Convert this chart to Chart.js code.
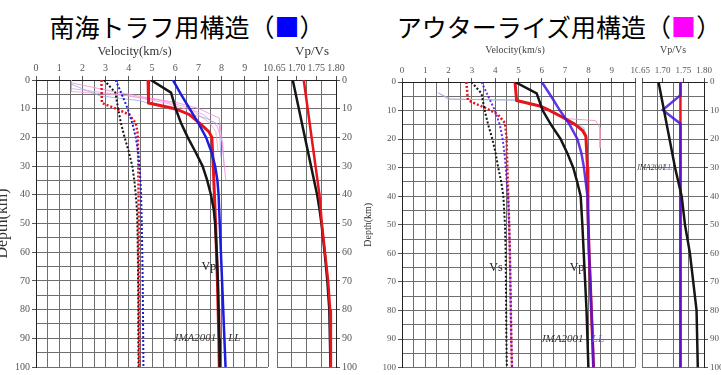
<!DOCTYPE html>
<html>
<head>
<meta charset="utf-8">
<script src="https://cdn.jsdelivr.net/npm/chart.js@4.4.1/dist/chart.umd.min.js"></script>
<style>
  body { margin: 0; background: #fff; }
  #wrap { position: relative; width: 721px; height: 375px; overflow: hidden; background: #fff; }
  canvas { position: absolute; }
  .title { position: absolute; top: 10px; font-family: "Noto Sans CJK JP", sans-serif; font-size: 25px; line-height: 32px; color: #000; white-space: nowrap; transform: translateX(-50%); }
  .preload { position: absolute; left: -200px; font-family: "Liberation Serif"; }
</style>
</head>
<body>
<div id="wrap">
  <div class="title" style="left:187px">南海トラフ用構造（<span style="color:#0000ff">■</span>）</div>
  <div class="title" style="left:559px">アウターライズ用構造（<span style="color:#ff00ff">■</span>）</div>
  <span class="preload">Vp <i>JMA</i></span>
  <canvas id="nkVel" width="276" height="335" style="left:0px;top:40px"></canvas>
  <canvas id="nkRatio" width="88" height="335" style="left:272px;top:40px"></canvas>
  <canvas id="orVel" width="276" height="335" style="left:362px;top:40px"></canvas>
  <canvas id="orRatio" width="84" height="335" style="left:637px;top:40px"></canvas>
</div>
<script>
// Nankai trough structure (left panel), depth in km, velocity in km/s
const nkJmaDepth = [0, 4.4, 10, 15, 20, 25, 30, 35, 40, 45, 50, 60, 70, 80, 90, 100];
const nkJmaVp = [4.95, 5.82, 6.02, 6.25, 6.54, 6.87, 7.18, 7.38, 7.54, 7.66, 7.72, 7.79, 7.84, 7.87, 7.9, 7.92];
const nkJmaVs = [2.93, 3.42, 3.54, 3.66, 3.82, 4.0, 4.15, 4.24, 4.3, 4.35, 4.37, 4.39, 4.4, 4.41, 4.41, 4.42];
const nkLLDepth = [0, 5, 10, 15, 20, 25, 30, 35, 40, 50, 60, 70, 80, 90, 100];
const nkLLVp = [5.9, 6.25, 6.62, 7.0, 7.33, 7.56, 7.72, 7.82, 7.87, 7.92, 7.97, 8.02, 8.07, 8.12, 8.17];
const nkLLVs = [3.43, 3.7, 3.95, 4.15, 4.3, 4.4, 4.46, 4.5, 4.53, 4.56, 4.58, 4.6, 4.61, 4.62, 4.63];
const nkModelDepth = [0, 8, 10, 12, 15, 18, 20, 30, 40, 50, 60, 70, 80, 90, 100];
const nkModelVp = [4.83, 4.85, 6.0, 6.6, 7.05, 7.45, 7.58, 7.64, 7.69, 7.74, 7.78, 7.82, 7.85, 7.88, 7.9];
const nkModelVs = [2.82, 2.84, 3.46, 4.0, 4.3, 4.37, 4.39, 4.41, 4.42, 4.43, 4.43, 4.44, 4.44, 4.45, 4.45];
// thin reference profiles
const nkFaintDepthA = [0, 1, 3.8, 6.1, 7.8, 10, 12.2, 13.3, 20, 35];
const nkFaintVpA = [1.53, 1.53, 3.2, 4.75, 6.04, 7.04, 7.6, 7.9, 8.0, 8.18];
const nkFaintDepthB = [0, 1.5, 5.5, 7.2, 8.9, 13.3, 15.6, 27];
const nkFaintVpB = [1.53, 1.53, 2.75, 4.46, 5.18, 7.32, 7.9, 7.97];
const nkFaintDepthC = [0, 3, 5, 7, 9, 12, 16, 22, 30];
const nkFaintVpC = [1.53, 1.53, 3.5, 5.3, 6.3, 7.2, 7.8, 8.05, 8.1];
const nkFaintDepthD = [0, 4, 5.5, 8, 11, 15, 18, 25];
const nkFaintVpD = [1.53, 1.53, 4.0, 5.6, 6.8, 7.5, 7.75, 7.85];
// Vp/Vs
const nkJmaRatioDepth = [0, 40, 45, 50, 60, 70, 80, 100];
const nkJmaRatio = [1.69, 1.752, 1.758, 1.763, 1.771, 1.778, 1.783, 1.786];
const nkModelRatioDepth = [0, 40, 50, 60, 70, 80, 100];
const nkModelRatio = [1.718, 1.758, 1.764, 1.772, 1.78, 1.785, 1.787];

// Outer-rise structure (right panel)
const orJmaDepth = [0, 4, 10, 15, 20, 25, 30, 35, 40, 50, 60, 70, 80, 90, 100];
const orJmaVp = [4.85, 5.78, 6.04, 6.4, 6.81, 7.1, 7.35, 7.52, 7.67, 7.74, 7.8, 7.86, 7.92, 7.96, 8.0];
const orJmaVs = [2.98, 3.41, 3.55, 3.7, 3.88, 4.02, 4.13, 4.26, 4.35, 4.42, 4.45, 4.46, 4.47, 4.48, 4.5];
const orLLDepth = [0, 5, 10, 15, 20, 25, 30, 40, 50, 60, 70, 80, 90, 100];
const orLLVp = [6.0, 6.4, 6.78, 7.2, 7.53, 7.7, 7.81, 7.96, 7.99, 8.03, 8.08, 8.13, 8.18, 8.22];
const orLLVs = [3.41, 3.7, 3.99, 4.2, 4.32, 4.4, 4.45, 4.55, 4.6, 4.63, 4.65, 4.67, 4.69, 4.72];
const orModelVpDepth = [0, 6.5, 8.5, 10, 12.5, 15, 17, 19, 30, 45, 60, 80, 100];
const orModelVp = [4.85, 4.92, 5.95, 6.35, 6.93, 7.45, 7.75, 7.89, 7.96, 7.98, 8.03, 8.13, 8.22];
const orModelVsDepth = [0, 6.3, 7.5, 9.2, 11.5, 14.4, 19.6, 30, 40, 50, 60, 70, 80, 90, 100];
const orModelVs = [2.76, 2.83, 3.12, 3.63, 4.13, 4.42, 4.49, 4.52, 4.56, 4.6, 4.63, 4.65, 4.67, 4.69, 4.72];
const orFaintDepthA = [3.7, 6, 6.4, 8.5, 12.5, 16, 20, 30];
const orFaintVpA = [1.54, 1.97, 5.0, 6.0, 7.0, 7.8, 7.95, 8.0];
const orFaintDepthB = [4, 6, 6.3, 8.5, 12.8, 13.5, 16, 23];
const orFaintVpB = [1.6, 2.1, 5.0, 5.95, 7.0, 8.3, 8.5, 8.5];
const orJmaRatioDepth = [0, 30, 40, 50, 60, 70, 80, 100];
const orJmaRatio = [1.69, 1.73, 1.746, 1.754, 1.766, 1.774, 1.782, 1.785];
const orLLRatioDepth = [0, 4.6, 9.8, 14.6, 100];
const orLLRatio = [1.743, 1.743, 1.70, 1.743, 1.743];
const orModelRatioDepth = [0, 100];
const orModelRatio = [1.743, 1.743];

// text placed on the plots: [text, x value, depth]
const nkVelNotes = [['Velocity(km/s)', 4.25, -10], ['Vp', 7.45, 65], ['JMA2001', 6.85, 90], ['LL', 8.55, 90]];
const nkRatioNotes = [['Vp/Vs', 1.739, -10]];
const orVelNotes = [['Velocity(km/s)', 4.85, -11], ['Vs', 4.03, 65], ['Vp', 7.51, 65], ['JMA2001', 6.87, 90], ['LL', 8.41, 90]];
const orRatioNotes = [['Vp/Vs', 1.725, -11], ['JMA2001', 1.672, 30], ['LL', 1.713, 30]];

const SERIF = "'Liberation Serif', 'DejaVu Serif', serif";
const RED = '#e8141c', BLUE = '#1c1cdc', BLACK = '#151515', PURPLE = 'rgba(70,20,225,0.85)';
const GRID = '#6e6e6e';

function pts(xs, ys) {
    return xs.map((x, i) => ({ x: x, y: ys[i] }));
}

function line(xs, ys, color, width, dash) {
    return {
        data: pts(xs, ys),
        showLine: true,
        borderColor: color,
        backgroundColor: color,
        borderWidth: width,
        borderDash: dash || [],
        pointRadius: 0,
        pointHoverRadius: 0,
        tension: 0,
        fill: false,
        xAxisID: 'x',
        yAxisID: 'y'
    };
}

// draws small captions at scale positions
const notesPlugin = {
    id: 'notes',
    afterDatasetsDraw(chart, args, opts) {
        const ctx = chart.ctx;
        const xs = chart.scales.x, ys = chart.scales.y;
        (opts.items || []).forEach(n => {
            ctx.save();
            ctx.font = n.font;
            ctx.fillStyle = n.color;
            ctx.textAlign = 'center';
            ctx.textBaseline = 'middle';
            ctx.fillText(n.text, xs.getPixelForValue(n.x), ys.getPixelForValue(n.y));
            ctx.restore();
        });
    }
};
Chart.register(notesPlugin);

function depthAxis(position, width, fontSize, title) {
    return {
        type: 'linear', position: position, reverse: true, min: 0, max: 100,
        ticks: {
            stepSize: 5, autoSkip: false, padding: 2, color: '#555',
            font: { family: SERIF, size: fontSize },
            callback: v => v % 10 === 0 ? v : ''
        },
        grid: {
            color: GRID, lineWidth: 1, tickLength: 4,
            tickColor: c => (c.tick && c.tick.value % 10 === 0) ? '#555' : 'rgba(0,0,0,0)'
        },
        border: { color: '#222', width: 1 },
        title: title || { display: false },
        afterFit: s => { s.width = width; }
    };
}

function velocityAxis(height, fontSize) {
    return {
        type: 'linear', position: 'top', min: 0, max: 10,
        ticks: {
            stepSize: 0.5, autoSkip: false, maxRotation: 0, padding: 2, color: '#555',
            font: { family: SERIF, size: fontSize },
            callback: v => Number.isInteger(v) ? v : ''
        },
        grid: {
            color: GRID, lineWidth: 1, tickLength: 4,
            tickColor: c => (c.tick && Number.isInteger(c.tick.value)) ? '#555' : 'rgba(0,0,0,0)'
        },
        border: { color: '#222', width: 1 },
        afterFit: s => { s.height = height; s.paddingLeft = 0; s.paddingRight = 0; }
    };
}

function ratioAxis(height, fontSize) {
    return {
        type: 'linear', position: 'top', min: 1.65, max: 1.80,
        ticks: {
            stepSize: 0.05, autoSkip: false, maxRotation: 0, padding: 2, color: '#555',
            font: { family: SERIF, size: fontSize },
            callback: v => v.toFixed(2)
        },
        grid: { drawOnChartArea: false, tickLength: 4, tickColor: '#555' },
        border: { color: '#222', width: 1 },
        afterFit: s => { s.height = height; s.paddingLeft = 0; s.paddingRight = 0; }
    };
}

// grid-only axis for the Vp/Vs boxes (4 columns)
function ratioGridAxis() {
    return {
        type: 'linear', position: 'top', min: 1.65, max: 1.80,
        ticks: { stepSize: 0.0375, display: false },
        grid: { color: GRID, lineWidth: 1, drawTicks: false },
        border: { display: false },
        afterFit: s => { s.height = 0; s.paddingLeft = 0; s.paddingRight = 0; }
    };
}

function noteItems(list, font, colors) {
    return list.map((n, i) => ({ text: n[0], x: n[1], y: n[2], font: font(n[0]), color: colors[i] || '#222' }));
}

function makeChart(id, datasets, scales, padding, notes) {
    return new Chart(document.getElementById(id), {
        type: 'scatter',
        data: { datasets: datasets },
        options: {
            responsive: false,
            animation: false,
            devicePixelRatio: 1,
            layout: { padding: padding },
            plugins: { legend: { display: false }, tooltip: { enabled: false }, notes: { items: notes } },
            scales: scales
        }
    });
}

function drawAll() {
    // left panel: velocity
    makeChart('nkVel', [
        line(nkJmaVp, nkJmaDepth, BLACK, 2.5),
        line(nkLLVp, nkLLDepth, BLUE, 2.5),
        line(nkModelVp, nkModelDepth, RED, 3),
        line(nkJmaVs, nkJmaDepth, BLACK, 2, [2, 2]),
        line(nkLLVs, nkLLDepth, BLUE, 2, [2, 2]),
        line(nkModelVs, nkModelDepth, RED, 2.5, [2, 2]),
        line(nkFaintVpA, nkFaintDepthA, 'rgba(240,140,210,0.8)', 1),
        line(nkFaintVpB, nkFaintDepthB, 'rgba(150,170,240,0.8)', 1),
        line(nkFaintVpC, nkFaintDepthC, 'rgba(235,150,230,0.8)', 1),
        line(nkFaintVpD, nkFaintDepthD, 'rgba(245,160,200,0.8)', 1)
    ], {
        x: velocityAxis(40, 10),
        y: depthAxis('left', 36, 10, {
            display: true, text: 'Depth(km)', color: '#333',
            font: { family: SERIF, size: 16 }, padding: { top: -7, bottom: 0 }
        })
    }, { left: 0, top: 0, right: 8, bottom: 4 },
        noteItems(nkVelNotes, t => t === 'Velocity(km/s)' ? '12.5px ' + SERIF : (t === 'Vp' ? '12px ' + SERIF : 'italic 11px ' + SERIF),
            ['#333', '#222', '#333', '#333']));

    // left panel: Vp/Vs
    makeChart('nkRatio', [
        line(nkModelRatio, nkModelRatioDepth, RED, 2.5),
        line(nkJmaRatio, nkJmaRatioDepth, BLACK, 2.5)
    ], {
        x: ratioAxis(40, 10),
        xg: ratioGridAxis(),
        y: depthAxis('right', 24, 10)
    }, { left: 5, top: 0, right: 0, bottom: 4 },
        noteItems(nkRatioNotes, () => '13px ' + SERIF, ['#333']));

    // right panel: velocity
    makeChart('orVel', [
        line(orJmaVp, orJmaDepth, BLACK, 2.5),
        line(orLLVp, orLLDepth, PURPLE, 2.5),
        line(orModelVp, orModelVpDepth, RED, 3),
        line(orJmaVs, orJmaDepth, BLACK, 2, [2, 2]),
        line(orLLVs, orLLDepth, PURPLE, 2, [2, 2]),
        line(orModelVs, orModelVsDepth, RED, 2.5, [2, 2]),
        line(orFaintVpA, orFaintDepthA, 'rgba(140,190,235,0.9)', 1),
        line(orFaintVpB, orFaintDepthB, 'rgba(240,150,180,0.9)', 1)
    ], {
        x: velocityAxis(42, 9),
        y: depthAxis('left', 40, 9, {
            display: true, text: 'Depth(km)', color: '#333',
            font: { family: SERIF, size: 10 }, padding: { top: 0, bottom: 0 }
        })
    }, { left: 0, top: 0, right: 3, bottom: 4 },
        noteItems(orVelNotes, t => t === 'Velocity(km/s)' ? '10px ' + SERIF : ((t === 'Vp' || t === 'Vs') ? '12px ' + SERIF : 'italic 11px ' + SERIF),
            ['#444', '#222', '#222', '#333', '#6a5acd']));

    // right panel: Vp/Vs
    makeChart('orRatio', [
        line(orJmaRatio, orJmaRatioDepth, BLACK, 2.5),
        line(orLLRatio, orLLRatioDepth, PURPLE, 2.5),
        line(orModelRatio, orModelRatioDepth, RED, 2.5)
    ], {
        x: ratioAxis(42, 9),
        xg: ratioGridAxis(),
        y: depthAxis('right', 17, 9)
    }, { left: 5, top: 0, right: 0, bottom: 4 },
        noteItems(orRatioNotes, t => t === 'Vp/Vs' ? '10px ' + SERIF : 'italic 7.5px ' + SERIF, ['#444', '#333', '#6a5acd']));
}

Promise.all([
    document.fonts.load('10px "Liberation Serif"'),
    document.fonts.load('italic 10px "Liberation Serif"')
]).then(drawAll, drawAll);
</script>
</body>
</html>
